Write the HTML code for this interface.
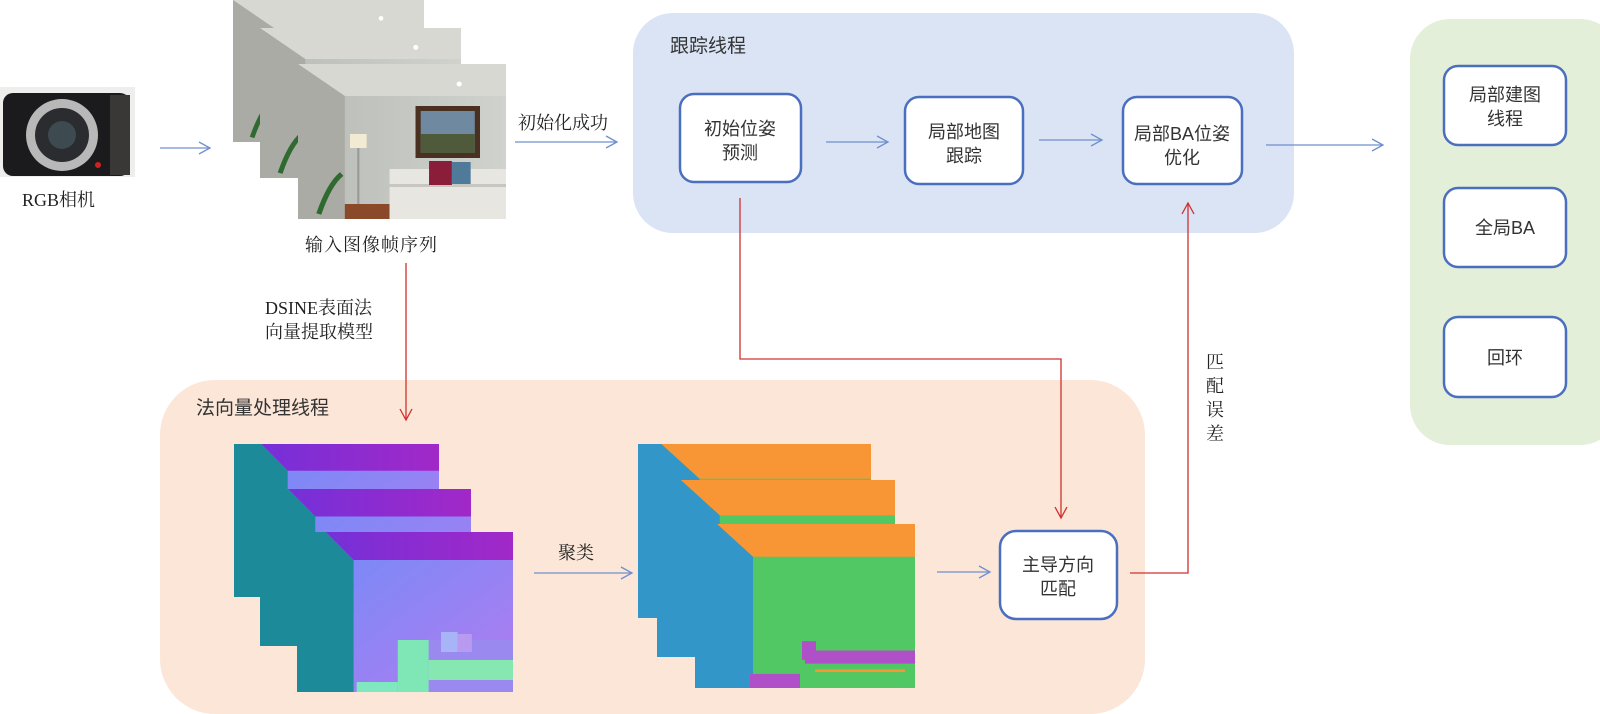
<!DOCTYPE html>
<html><head><meta charset="utf-8"><style>
html,body{margin:0;padding:0;background:#fff;}
svg{display:block;}
text{font-family:"Liberation Serif","Noto Serif CJK SC",serif;fill:#222;}
.b{font-family:"Liberation Sans","Noto Sans CJK SC",sans-serif;font-size:18px;fill:#333;}
</style></head><body>
<svg width="1600" height="714" viewBox="0 0 1600 714" xmlns="http://www.w3.org/2000/svg">
<defs>
<linearGradient id="wall" x1="0" x2="1"><stop offset="0" stop-color="#b9bcb6"/><stop offset="1" stop-color="#cfd2cd"/></linearGradient>
<linearGradient id="nw" x1="0" y1="0" x2="1" y2="1"><stop offset="0" stop-color="#6f8cf8"/><stop offset="1" stop-color="#b17cf0"/></linearGradient>
<linearGradient id="nc" x1="0" x2="1"><stop offset="0" stop-color="#7530d8"/><stop offset="1" stop-color="#a228c8"/></linearGradient>
<symbol id="photo" viewBox="0 0 200 155" preserveAspectRatio="none">
<rect width="200" height="155" fill="url(#wall)"/>
<polygon points="0,0 200,0 200,32 45,32" fill="#d8d8d2"/>
<polygon points="0,0 45,32 45,155 0,155" fill="#a9aba4"/>
<circle cx="155" cy="20" r="2.5" fill="#fff"/>
<rect x="113" y="42" width="62" height="52" fill="#4a3020"/>
<rect x="118" y="47" width="52" height="42" fill="#6f8aa0"/>
<rect x="118" y="70" width="52" height="19" fill="#4f5a3a"/>
<rect x="50" y="70" width="16" height="14" fill="#f2ead2"/>
<rect x="57" y="84" width="2" height="60" fill="#999"/>
<rect x="45" y="140" width="45" height="15" fill="#8a4a2a"/>
<rect x="88" y="105" width="112" height="50" fill="#e8e6e0"/>
<rect x="88" y="120" width="112" height="3" fill="#c8c6c0"/>
<rect x="126" y="97" width="22" height="24" fill="#8a1d3a"/>
<rect x="148" y="98" width="18" height="22" fill="#4f7a9a"/>
<path d="M20,150 Q30,120 42,110" stroke="#2f6a30" stroke-width="5" fill="none"/>
</symbol>
<symbol id="norm" viewBox="0 0 210 160" preserveAspectRatio="none">
<rect width="210" height="160" fill="url(#nw)"/>
<polygon points="28,0 210,0 210,28 55,28" fill="url(#nc)"/>
<polygon points="0,0 28,0 55,28 55,160 0,160" fill="#1d8a9a"/>
<rect x="98" y="108" width="112" height="52" fill="#9a8af0"/>
<rect x="98" y="108" width="30" height="52" fill="#7fe6b6"/>
<rect x="128" y="128" width="82" height="20" fill="#86e8b0"/>
<rect x="140" y="100" width="16" height="20" fill="#a8b4f8"/>
<rect x="156" y="102" width="14" height="18" fill="#b89af0"/>
<rect x="58" y="150" width="40" height="10" fill="#7fe8c0"/>
</symbol>
<symbol id="clus" viewBox="0 0 220 175" preserveAspectRatio="none">
<rect width="220" height="175" fill="#52c864"/>
<polygon points="22,0 220,0 220,35 58,35" fill="#f89535"/>
<polygon points="0,0 22,0 58,35 58,175 0,175" fill="#3396c8"/>
<rect x="110" y="135" width="110" height="14" fill="#b050c8"/>
<rect x="55" y="160" width="50" height="15" fill="#b050c8"/>
<rect x="107" y="125" width="14" height="20" fill="#b050c8"/>
<rect x="120" y="155" width="90" height="3" fill="#f89535"/>
</symbol>
<marker id="ab" markerWidth="14" markerHeight="14" refX="12" refY="7" orient="auto" markerUnits="userSpaceOnUse"><path d="M1,1 L12,7 L1,13" fill="none" stroke="#6f8fcf" stroke-width="1.3"/></marker>
<marker id="ar" markerWidth="14" markerHeight="14" refX="12" refY="7" orient="auto" markerUnits="userSpaceOnUse"><path d="M1,1 L12,7 L1,13" fill="none" stroke="#d03030" stroke-width="1.3"/></marker>
</defs>

<!-- panels -->
<rect x="633" y="13" width="661" height="220" rx="40" fill="#dbe4f5"/>
<rect x="1410" y="19" width="210" height="426" rx="40" fill="#e3efd9"/>
<rect x="160" y="380" width="985" height="334" rx="55" fill="#fbe6d8"/>

<text x="670" y="52" class="b" style="font-size:19px">跟踪线程</text>
<text x="196" y="414" class="b" style="font-size:19px">法向量处理线程</text>

<!-- camera -->
<rect x="0" y="87" width="135" height="90" fill="#eeeeec"/>
<rect x="3" y="93" width="127" height="83" rx="10" fill="#1b1b1d"/>
<rect x="110" y="95" width="20" height="80" fill="#3a3836"/>
<circle cx="62" cy="135" r="36" fill="#b8b8b8"/>
<circle cx="62" cy="135" r="27" fill="#2a2c30"/>
<circle cx="62" cy="135" r="14" fill="#3d4a50"/>
<circle cx="98" cy="165" r="3" fill="#d02020"/>
<text x="22" y="206" style="font-size:18px">RGB相机</text>
<line x1="160" y1="148" x2="210" y2="148" stroke="#6f8fcf" stroke-width="1.3" marker-end="url(#ab)"/>

<!-- photos -->
<use href="#photo" x="233" y="0" width="191" height="142"/>
<use href="#photo" x="260" y="28" width="201" height="150"/>
<use href="#photo" x="298" y="64" width="208" height="155"/>
<text x="305" y="251" style="font-size:18px;letter-spacing:1px">输入图像帧序列</text>

<text x="518" y="129" style="font-size:18px">初始化成功</text>
<line x1="515" y1="142" x2="617" y2="142" stroke="#6f8fcf" stroke-width="1.3" marker-end="url(#ab)"/>

<!-- tracking boxes -->
<rect x="680" y="94" width="121" height="88" rx="14" fill="#fff" stroke="#4a6fbf" stroke-width="2.5"/>
<text x="740" y="135" class="b" text-anchor="middle">初始位姿</text>
<text x="740" y="159" class="b" text-anchor="middle">预测</text>
<rect x="905" y="97" width="118" height="87" rx="14" fill="#fff" stroke="#4a6fbf" stroke-width="2.5"/>
<text x="964" y="138" class="b" text-anchor="middle">局部地图</text>
<text x="964" y="162" class="b" text-anchor="middle">跟踪</text>
<rect x="1123" y="97" width="119" height="87" rx="14" fill="#fff" stroke="#4a6fbf" stroke-width="2.5"/>
<text x="1182" y="140" class="b" text-anchor="middle">局部BA位姿</text>
<text x="1182" y="164" class="b" text-anchor="middle">优化</text>
<line x1="826" y1="142" x2="888" y2="142" stroke="#6f8fcf" stroke-width="1.3" marker-end="url(#ab)"/>
<line x1="1039" y1="140" x2="1102" y2="140" stroke="#6f8fcf" stroke-width="1.3" marker-end="url(#ab)"/>
<line x1="1266" y1="145" x2="1383" y2="145" stroke="#6f8fcf" stroke-width="1.3" marker-end="url(#ab)"/>

<!-- right boxes -->
<rect x="1444" y="66" width="122" height="79" rx="14" fill="#fff" stroke="#4a6fbf" stroke-width="2.5"/>
<text x="1505" y="101" class="b" text-anchor="middle">局部建图</text>
<text x="1505" y="125" class="b" text-anchor="middle">线程</text>
<rect x="1444" y="188" width="122" height="79" rx="14" fill="#fff" stroke="#4a6fbf" stroke-width="2.5"/>
<text x="1505" y="234" class="b" text-anchor="middle">全局BA</text>
<rect x="1444" y="317" width="122" height="80" rx="14" fill="#fff" stroke="#4a6fbf" stroke-width="2.5"/>
<text x="1505" y="364" class="b" text-anchor="middle">回环</text>

<!-- DSINE -->
<text x="265" y="314" style="font-size:18px">DSINE表面法</text>
<text x="265" y="338" style="font-size:18px">向量提取模型</text>
<line x1="406" y1="263" x2="406" y2="420" stroke="#d03030" stroke-width="1.3" marker-end="url(#ar)"/>

<!-- normals -->
<use href="#norm" x="234" y="444" width="205" height="153"/>
<use href="#norm" x="260" y="489" width="211" height="157"/>
<use href="#norm" x="297" y="532" width="216" height="160"/>
<text x="558" y="559" style="font-size:18px">聚类</text>
<line x1="534" y1="573" x2="632" y2="573" stroke="#6f8fcf" stroke-width="1.3" marker-end="url(#ab)"/>

<!-- clusters -->
<use href="#clus" x="638" y="444" width="233" height="174"/>
<use href="#clus" x="657" y="480" width="238" height="177"/>
<use href="#clus" x="695" y="524" width="220" height="164"/>
<line x1="937" y1="572" x2="990" y2="572" stroke="#6f8fcf" stroke-width="1.3" marker-end="url(#ab)"/>

<rect x="1000" y="531" width="117" height="88" rx="16" fill="#fff" stroke="#4a6fbf" stroke-width="2.5"/>
<text x="1058" y="571" class="b" text-anchor="middle">主导方向</text>
<text x="1058" y="595" class="b" text-anchor="middle">匹配</text>

<!-- red connectors -->
<polyline points="740,198 740,359 1061,359 1061,518" fill="none" stroke="#d03030" stroke-width="1.3" marker-end="url(#ar)"/>
<polyline points="1130,573 1188,573 1188,203" fill="none" stroke="#d03030" stroke-width="1.3" marker-end="url(#ar)"/>
<text x="1206" y="368" style="font-size:18px">匹</text>
<text x="1206" y="392" style="font-size:18px">配</text>
<text x="1206" y="416" style="font-size:18px">误</text>
<text x="1206" y="440" style="font-size:18px">差</text>
</svg>
</body></html>
